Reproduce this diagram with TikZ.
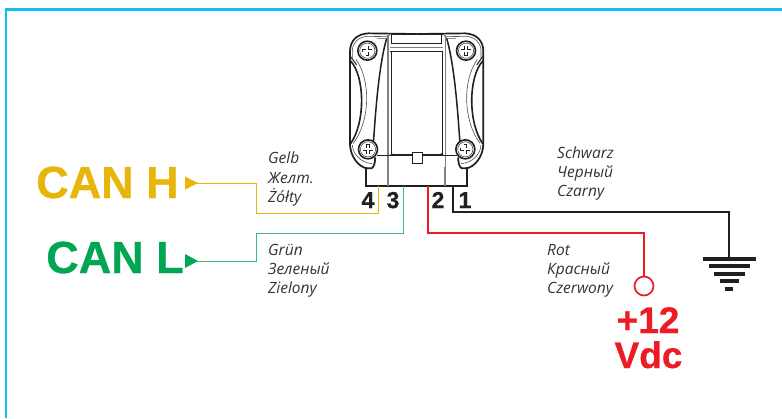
\documentclass[tikz,border=0pt]{standalone}
\usepackage{fontspec}
\setmainfont{Liberation Sans}[BoldFeatures={FakeBold=0.6}]
\newfontfamily\labelfont{Open Sans}
\definecolor{frameblue}{HTML}{12BEF2}
\definecolor{canyellow}{HTML}{E8B60A}
\definecolor{cangreen}{HTML}{00A651}
\definecolor{wirered}{HTML}{ED1C24}
\definecolor{wireblack}{HTML}{231F20}
\definecolor{txtgray}{HTML}{333333}
\tikzset{
  bigtext/.style={inner sep=0pt,anchor=base,font=\bfseries\fontsize{45}{45}\selectfont},
  voltext/.style={inner sep=0pt,anchor=base,font=\bfseries\fontsize{37}{37}\selectfont,text=wirered},
  pintext/.style={inner sep=0pt,anchor=base,font=\bfseries\fontsize{23}{23}\selectfont,text=wireblack},
  wirelabel/.style={inner sep=0pt,anchor=base west,text=txtgray,font=\labelfont\itshape\fontsize{15.5}{15.5}\selectfont},
  gndbar/.style={fill=wireblack,draw=none},
  sline/.style={draw=wireblack,line width=1pt},
  sthin/.style={draw=black!70,line width=0.6pt},
  sgray/.style={draw=black!50,line width=1.2pt},
}
\newcommand{\sensorhalf}{%
  % outer wall
  \draw[sline,line width=1.7pt,line join=round] (230,42) -- (85,40) .. controls (50,42) and (30,62) .. (30,95) -- (30,375) .. controls (32,410) and (55,440) .. (80,445) -- (95,445) .. controls (103,440) and (106,425) .. (105,412);
  % inner parallel of the wall
  \draw[sthin] (145,50) -- (80,49) .. controls (55,52) and (38,68) .. (37,90) -- (37,115);
  \draw[sthin] (37,375) .. controls (38,400) and (60,428) .. (97,431);
  % wing cut-outs
  \draw[sline,line width=1.6pt] (31,122) .. controls (76,170) and (76,310) .. (31,372);
  \draw[sthin] (48,118) .. controls (92,180) and (92,300) .. (40,370);
  \draw[sline] (32,110) -- (50,135);
  % band edge
  \draw[sline,line width=1.5pt] (140,55) .. controls (124,110) and (112,200) .. (103,330) -- (100,368);
  \draw[sthin] (112,55) -- (140,55) -- (150,43);
  % centre
  \draw[sline] (230,42) -- (152,42);
  \draw[sline] (155,42) -- (155,72);
  \draw[sline] (155,70) -- (230,70);
  \draw[sgray,line width=0.8pt] (150,82) -- (230,82);
  \draw[sline] (150,95) -- (230,95);
  \draw[sgray] (144,45) -- (144,450);
  \draw[sline] (153,95) -- (153,403) -- (230,403);
  \fill[wireblack] (155,403) circle (1.3pt);
  \draw[sline,line width=0.8pt] (110,405) -- (230,405);
  % screws
  \foreach \cx/\cy in {82/92,84/388} {
    \draw[wireblack,line width=1.6pt,fill=white] (\cx,\cy) circle (9.5pt);
    \draw[sthin] (\cx,\cy) circle (7.6pt);
    \draw[wireblack,line width=3.6pt] (\cx-15,\cy) -- (\cx+15,\cy) (\cx,\cy-15) -- (\cx,\cy+15);
    \draw[white,line width=2.2pt] (\cx-14,\cy) -- (\cx+14,\cy) (\cx,\cy-14) -- (\cx,\cy+14);
  }
  % tab of the bottom ear
  \draw[sline,line width=1.4pt] (78,445) -- (78,480);
}
\begin{document}
\begin{tikzpicture}[x=1pt,y=-1pt]
\useasboundingbox (0,0) rectangle (782,418);
\fill[white] (0,0) rectangle (782,418);
% frame
\draw[frameblue,line width=2.3pt] (6,418) -- (6,9.5) -- (782,9.5);

% sensor
\begin{scope}[shift={(340,20)},x=0.33333pt,y=-0.33333pt]
  \sensorhalf
\end{scope}
\begin{scope}[shift={(493.33,20)},x=-0.33333pt,y=-0.33333pt]
  \sensorhalf
\end{scope}
\draw[sline,fill=white,line width=0.7pt] (412,152) rectangle (422,163);
\draw[sline,line width=1.6pt] (366,167) -- (366,186) -- (467,186) -- (467,167);
\draw[sgray] (388,167) -- (388,186) (445,167) -- (445,186);

% anchors
\coordinate (p4) at (378,186);
\coordinate (p3) at (403,186);
\coordinate (p2) at (428,186);
\coordinate (p1) at (453,186);
\coordinate (y1) at (256,213);
\coordinate (y2) at (256,183);
\coordinate (g1) at (256,233);
\coordinate (g2) at (256,261);
\coordinate (r1) at (644,233);
\coordinate (k1) at (729,212);
\coordinate (tipH) at (197,183);
\coordinate (tipL) at (197,261);
\coordinate (gnd) at (729,257);

\fill[canyellow] (185,176.5) -- (198,183) -- (185,189.5) -- cycle;
\fill[cangreen] (185,254) -- (198,261) -- (185,268) -- cycle;

\node[circle,draw=wirered,line width=1.7pt,fill=white,minimum size=19pt,inner sep=0pt] (vcc) at (644,286) {};

% wires
\draw[canyellow,line width=1pt] (p4) |- (y1) -- (y2) -- (tipH);
\draw[cangreen!75!white,line width=1pt] (p3) |- (g1) -- (g2) -- (tipL);
\draw[wirered,line width=1.7pt] (p2) |- (r1) -- (vcc);
\draw[wireblack,line width=1.7pt] (p1) |- (k1) -- (gnd);

% ground
\foreach \yy/\ww in {259/26.5,266/20.5,274/15.5,281/9.5,289/4}
  \fill[gndbar] (729-\ww,\yy-2) rectangle (729+\ww,\yy+2);

% texts
\node[bigtext,text=canyellow] (canh) at (107.5,198) {CAN H};
\node[bigtext,text=cangreen] (canl) at (115,273) {CAN L};
\node[voltext] (v12) at (648,333) {+12};
\node[voltext] (vdc) at (648.5,368) {Vdc};
\node[pintext] (n4) at (368,208) {4};
\node[pintext] (n3) at (393,208) {3};
\node[pintext] (n2) at (438,208) {2};
\node[pintext] (n1) at (465,208) {1};

\node[wirelabel] (a1) at (268,163) {Gelb};
\node[wirelabel] (a2) at (268,183) {Желт.};
\node[wirelabel] (a3) at (268,202) {Żółty};
\node[wirelabel] (b1) at (268,255) {Grün};
\node[wirelabel] (b2) at (268,274) {Зеленый};
\node[wirelabel] (b3) at (268,293) {Zielony};
\node[wirelabel] (c1) at (557,158) {Schwarz};
\node[wirelabel] (c2) at (557,177) {Черный};
\node[wirelabel] (c3) at (557,196) {Czarny};
\node[wirelabel] (d1) at (547,255) {Rot};
\node[wirelabel] (d2) at (547,274) {Красный};
\node[wirelabel] (d3) at (547,293) {Czerwony};
\end{tikzpicture}
\end{document}
